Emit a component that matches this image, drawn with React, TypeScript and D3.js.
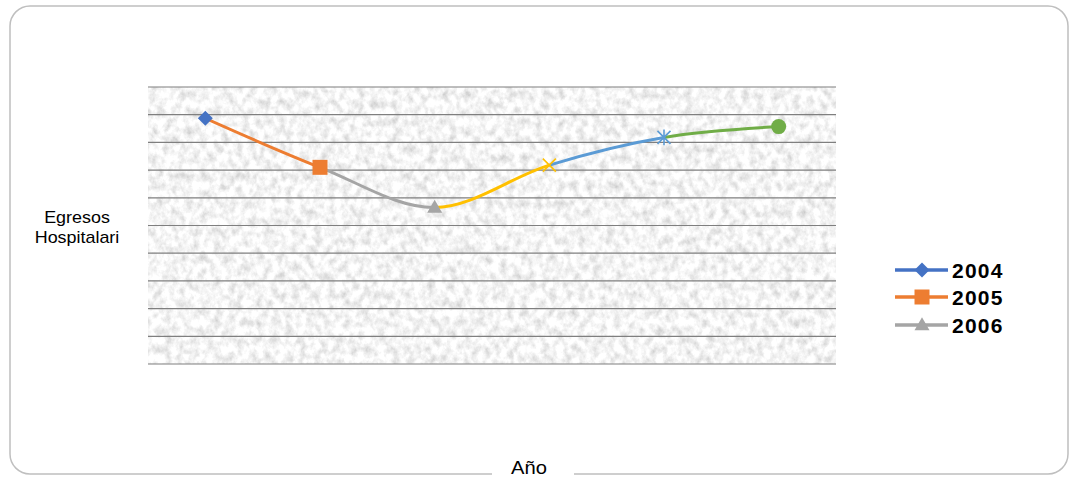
import React from "react";
import * as d3 from "d3";

const categories = ["2004", "2005", "2006", "2007", "2008", "2009"];
const values = [8.87, 7.1, 5.65, 7.18, 8.18, 8.57];
const colors = ["#4472C4", "#ED7D31", "#A5A5A5", "#FFC000", "#5B9BD5", "#70AD47"];
const markers = ["diamond", "square", "triangle", "x", "star", "circle"];
const legendItems = ["2004", "2005", "2006"];
const gridTicks = d3.range(0, 11);
const yTitle = ["Egresos", "Hospitalari"];
const xTitle = "Año";

const W = 1070;
const H = 478;
const plot = { left: 148, right: 836, top: 87, bottom: 364 };

function markerPath(type: string, s: number): string {
  const h = s / 2;
  switch (type) {
    case "diamond":
      return `M0,${-h}L${h},0L0,${h}L${-h},0Z`;
    case "square":
      return `M${-h},${-h}H${h}V${h}H${-h}Z`;
    case "triangle": {
      const hh = (s * Math.sqrt(3)) / 2;
      return `M0,${-hh * 0.6}L${h},${hh * 0.4}L${-h},${hh * 0.4}Z`;
    }
    case "x":
      return `M${-h},${-h}L${h},${h}M${h},${-h}L${-h},${h}`;
    case "star":
      return `M${-h},${-h}L${h},${h}M${h},${-h}L${-h},${h}M0,${-h * 1.2}V${h * 1.2}`;
    case "circle":
      return d3.arc()({ innerRadius: 0, outerRadius: h, startAngle: 0, endAngle: Math.PI * 2 }) as string;
  }
  return "";
}

const markerSize: Record<string, number> = {
  diamond: 15,
  square: 15,
  triangle: 15,
  x: 13,
  star: 13,
  circle: 15,
};

export default function App() {
  const x = d3
    .scaleBand<string>()
    .domain(categories)
    .range([plot.left, plot.right]);
  const y = d3.scaleLinear().domain([0, 10]).range([plot.bottom, plot.top]);
  const pts: [number, number][] = categories.map((c, i) => [
    (x(c) as number) + x.bandwidth() / 2,
    y(values[i]),
  ]);
  const line = d3.line().curve(d3.curveCardinal.tension(0));
  const fullPath = line(pts) as string;

  const legendX = 895;
  const legendY = [270, 297, 325];

  return (
    <svg
      width={W}
      height={H}
      style={{ position: "absolute", left: 0, top: 0, background: "#fff" }}
      fontFamily="'Liberation Sans', Arial, sans-serif"
    >
      <defs>
        <filter
          id="granite"
          filterUnits="userSpaceOnUse"
          x={plot.left}
          y={plot.top}
          width={plot.right - plot.left}
          height={plot.bottom - plot.top}
        >
          <feTurbulence type="fractalNoise" baseFrequency="0.14 0.11" numOctaves="4" seed="7" />
          <feColorMatrix
            type="matrix"
            values="0.7 0 0 0 0.56  0.7 0 0 0 0.56  0.7 0 0 0 0.56  0 0 0 0 1"
          />
        </filter>
        {pts.slice(1).map((p, i) => (
          <clipPath id={`seg${i}`} key={i}>
            <rect x={pts[i][0]} y={0} width={p[0] - pts[i][0]} height={H} />
          </clipPath>
        ))}
      </defs>

      {/* frame */}
      <rect x={10} y={6} width={1058} height={468} rx={20} ry={20} fill="none" stroke="#BFBFBF" strokeWidth={1.5} />

      {/* plot texture */}
      <rect
        x={plot.left}
        y={plot.top}
        width={plot.right - plot.left}
        height={plot.bottom - plot.top}
        filter="url(#granite)"
      />

      {/* gridlines */}
      {gridTicks.map((t) => (
        <line
          key={t}
          x1={plot.left}
          x2={plot.right}
          y1={y(t)}
          y2={y(t)}
          stroke="#7F7F7F"
          strokeWidth={1.2}
        />
      ))}

      {/* segments */}
      {pts.slice(1).map((_, i) => (
        <path
          key={i}
          d={fullPath}
          fill="none"
          stroke={colors[i + 1]}
          strokeWidth={3}
          clipPath={`url(#seg${i})`}
        />
      ))}

      {/* markers */}
      {pts.map((p, i) => {
        const m = markers[i];
        const stroked = m === "x" || m === "star";
        return (
          <path
            key={i}
            transform={`translate(${p[0]},${p[1]})`}
            d={markerPath(m, markerSize[m])}
            fill={stroked ? "none" : colors[i]}
            stroke={stroked ? colors[i] : "none"}
            strokeWidth={stroked ? 1.6 : 0}
          />
        );
      })}

      {/* legend */}
      {legendItems.map((name, i) => {
        const idx = categories.indexOf(name);
        const ly = legendY[i];
        return (
          <g key={name}>
            <line x1={legendX} x2={legendX + 53} y1={ly} y2={ly} stroke={colors[idx]} strokeWidth={3.5} />
            <path
              transform={`translate(${legendX + 27},${ly})`}
              d={markerPath(markers[idx], markerSize[markers[idx]])}
              fill={colors[idx]}
            />
            <text
              x={legendX + 57}
              y={ly + 8}
              fontSize={21}
              fontWeight="bold"
              fill="#000"
              letterSpacing={1.2}
            >
              {name}
            </text>
          </g>
        );
      })}

      {/* y title */}
      {yTitle.map((t, i) => (
        <g key={t} transform={`translate(77,${223 + i * 20}) scale(1.12,1)`}>
          <text textAnchor="middle" fontSize={16} fill="#000">
            {t}
          </text>
        </g>
      ))}

      {/* x title */}
      <rect x={492} y={466} width={82} height={12} fill="#fff" />
      <g transform={`translate(529,474) scale(1.12,1)`}>
        <text textAnchor="middle" fontSize={18} fill="#000">
          {xTitle}
        </text>
      </g>
    </svg>
  );
}
